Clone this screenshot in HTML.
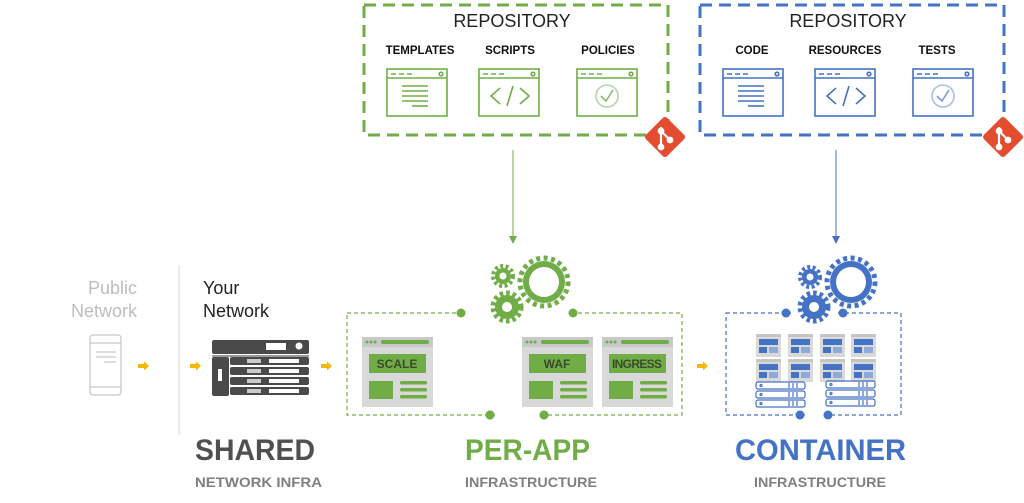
<!DOCTYPE html>
<html><head><meta charset="utf-8"><style>
html,body{margin:0;padding:0;background:#fff;}
svg{display:block;}
text{font-family:"Liberation Sans",sans-serif;}
</style></head><body>
<svg width="1024" height="503" viewBox="0 0 1024 503" xmlns="http://www.w3.org/2000/svg">
<defs>
<marker id="ag" markerWidth="8" markerHeight="8" refX="4" refY="4" orient="auto"><path d="M0,0 L8,4 L0,8 z" fill="#70ad47"/></marker>
<marker id="ab" markerWidth="8" markerHeight="8" refX="4" refY="4" orient="auto"><path d="M0,0 L8,4 L0,8 z" fill="#4472c4"/></marker>
<g id="arrow"><rect x="0" y="-2" width="7" height="4" fill="#f5b800"/><path d="M6,-4.5 L11,0 L6,4.5z" fill="#f5b800"/></g>
</defs>

<!-- Green repository -->
<rect x="364" y="5" width="304" height="130" fill="none" stroke="#70ad47" stroke-width="3" stroke-dasharray="12,7"/>
<text x="512" y="27" font-size="18" text-anchor="middle" fill="#222">REPOSITORY</text>
<g font-size="11.5" font-weight="bold" fill="#111" text-anchor="middle">
<text x="420" y="54">TEMPLATES</text><text x="510" y="54">SCRIPTS</text><text x="608" y="54">POLICIES</text>
</g>
<g fill="none" stroke="#70ad47" stroke-width="1.6">
<rect x="387" y="69" width="60" height="47"/><line x1="387" y1="78" x2="447" y2="78"/>
<line x1="391" y1="74" x2="413" y2="74" stroke-dasharray="5,3"/><circle cx="441" cy="74" r="1.8"/>
<line x1="402" y1="86" x2="428" y2="86"/><line x1="402" y1="91" x2="428" y2="91"/><line x1="402" y1="96" x2="428" y2="96"/><line x1="402" y1="101" x2="428" y2="101"/><line x1="412" y1="106" x2="428" y2="106"/>
<rect x="479" y="69" width="60" height="47"/><line x1="479" y1="78" x2="539" y2="78"/>
<line x1="483" y1="74" x2="505" y2="74" stroke-dasharray="5,3"/><circle cx="533" cy="74" r="1.8"/>
<path d="M500,88 L491,96 L500,104 M520,88 L529,96 L520,104 M513,86 L507,106"/>
<rect x="577" y="69" width="60" height="47"/><line x1="577" y1="78" x2="637" y2="78"/>
<line x1="581" y1="74" x2="603" y2="74" stroke-dasharray="5,3"/><circle cx="631" cy="74" r="1.8"/>
<circle cx="607" cy="96" r="11" stroke="#b8d4a8"/><path d="M601,96 L606,101 L613,90" stroke="#8ab872"/>
</g>
<!-- Blue repository -->
<rect x="700" y="5" width="304" height="130" fill="none" stroke="#4472c4" stroke-width="3" stroke-dasharray="12,7"/>
<text x="848" y="27" font-size="18" text-anchor="middle" fill="#222">REPOSITORY</text>
<g font-size="11.5" font-weight="bold" fill="#111" text-anchor="middle">
<text x="752" y="54">CODE</text><text x="845" y="54">RESOURCES</text><text x="937" y="54">TESTS</text>
</g>
<g fill="none" stroke="#4472c4" stroke-width="1.6">
<rect x="723" y="69" width="60" height="47"/><line x1="723" y1="78" x2="783" y2="78"/>
<line x1="727" y1="74" x2="749" y2="74" stroke-dasharray="5,3"/><circle cx="777" cy="74" r="1.8"/>
<line x1="738" y1="86" x2="764" y2="86"/><line x1="738" y1="91" x2="764" y2="91"/><line x1="738" y1="96" x2="764" y2="96"/><line x1="738" y1="101" x2="764" y2="101"/><line x1="748" y1="106" x2="764" y2="106"/>
<rect x="815" y="69" width="60" height="47"/><line x1="815" y1="78" x2="875" y2="78"/>
<line x1="819" y1="74" x2="841" y2="74" stroke-dasharray="5,3"/><circle cx="869" cy="74" r="1.8"/>
<path d="M836,88 L827,96 L836,104 M856,88 L865,96 L856,104 M849,86 L843,106"/>
<rect x="913" y="69" width="60" height="47"/><line x1="913" y1="78" x2="973" y2="78"/>
<line x1="917" y1="74" x2="939" y2="74" stroke-dasharray="5,3"/><circle cx="967" cy="74" r="1.8"/>
<circle cx="943" cy="96" r="11" stroke="#a8bde4"/><path d="M937,96 L942,101 L949,90" stroke="#7b9bd6"/>
</g>
<!-- git icons -->
<g transform="translate(665,137) rotate(45)"><rect x="-15" y="-15" width="30" height="30" rx="3" fill="#e44c30"/></g>
<g stroke="#fff" stroke-width="2.2" fill="#fff"><line x1="661" y1="127" x2="661" y2="147"/><line x1="661" y1="131" x2="670" y2="140"/><circle cx="661" cy="131" r="2.3"/><circle cx="661" cy="147" r="2.3"/><circle cx="670" cy="140" r="2.3"/></g>
<g transform="translate(1003,137) rotate(45)"><rect x="-15" y="-15" width="30" height="30" rx="3" fill="#e44c30"/></g>
<g stroke="#fff" stroke-width="2.2" fill="#fff"><line x1="999" y1="127" x2="999" y2="147"/><line x1="999" y1="131" x2="1008" y2="140"/><circle cx="999" cy="131" r="2.3"/><circle cx="999" cy="147" r="2.3"/><circle cx="1008" cy="140" r="2.3"/></g>

<!-- vertical arrows -->
<line x1="513" y1="150" x2="513" y2="240" stroke="#70ad47" stroke-width="1" marker-end="url(#ag)"/>
<line x1="836" y1="150" x2="836" y2="240" stroke="#4472c4" stroke-width="1" marker-end="url(#ab)"/>

<!-- Public network -->
<text x="137" y="294" font-size="18" fill="#bdbdbd" text-anchor="end">Public</text>
<text x="137" y="317" font-size="18" fill="#bdbdbd" text-anchor="end">Network</text>
<g fill="none" stroke="#c8c8c8" stroke-width="1.3">
<rect x="90" y="335" width="31" height="60" rx="3"/><line x1="90" y1="343" x2="121" y2="343"/><line x1="90" y1="387" x2="121" y2="387"/>
<line x1="96" y1="352" x2="116" y2="352"/><line x1="96" y1="357" x2="116" y2="357"/><line x1="104" y1="362" x2="116" y2="362"/>
</g>
<use href="#arrow" x="138" y="366"/>
<line x1="179" y1="265" x2="179" y2="435" stroke="#dcdcdc" stroke-width="1.2"/>
<!-- Your network -->
<text x="203" y="294" font-size="18" fill="#222">Your</text>
<text x="203" y="317" font-size="18" fill="#222">Network</text>
<use href="#arrow" x="190" y="366"/>
<g fill="#4a4a4a">
<rect x="212" y="340" width="97" height="14" rx="2"/>
<rect x="212" y="355" width="97" height="2" fill="#9a9a9a"/>
<rect x="212" y="357" width="17" height="39" rx="2"/>
<rect x="230" y="357" width="79" height="8" rx="2"/><rect x="230" y="367" width="79" height="8" rx="2"/><rect x="230" y="377" width="79" height="8" rx="2"/><rect x="230" y="387" width="79" height="8" rx="2"/>
</g>
<g fill="#fff"><rect x="266" y="343" width="20" height="7"/><circle cx="299" cy="346" r="3.5"/><rect x="218" y="369" width="4" height="12"/>
<rect x="269" y="359" width="30" height="4"/><rect x="269" y="369" width="30" height="4"/><rect x="269" y="379" width="30" height="4"/><rect x="269" y="389" width="30" height="4"/>
<rect x="247" y="359" width="14" height="4" opacity=".7"/><rect x="247" y="369" width="14" height="4" opacity=".7"/><rect x="247" y="379" width="14" height="4" opacity=".7"/><rect x="247" y="389" width="14" height="4" opacity=".7"/></g>
<use href="#arrow" x="321" y="366"/>

<!-- Per-app -->
<rect x="347" y="313" width="335" height="102" fill="none" stroke="#70ad47" stroke-width="1.2" stroke-dasharray="4,3"/>
<rect x="466" y="308" width="102" height="10" fill="#fff"/>
<g fill="#70ad47">
<circle cx="544" cy="282" r="21"/><circle cx="544" cy="282" r="24" fill="none" stroke="#70ad47" stroke-width="5" stroke-dasharray="4,3.5"/>
<circle cx="503" cy="276" r="8"/><circle cx="503" cy="276" r="10" fill="none" stroke="#70ad47" stroke-width="4" stroke-dasharray="3,2.5"/>
<circle cx="507" cy="307" r="12"/><circle cx="507" cy="307" r="14" fill="none" stroke="#70ad47" stroke-width="5" stroke-dasharray="3.5,3"/>
</g>
<circle cx="544" cy="282" r="15" fill="#fff"/><circle cx="503" cy="276" r="3.5" fill="#fff"/><circle cx="507" cy="307" r="5" fill="#fff"/>
<g fill="#70ad47"><circle cx="461" cy="313" r="4.5"/><circle cx="573" cy="313" r="4.5"/><circle cx="490" cy="415" r="4.5"/><circle cx="544" cy="415" r="4.5"/></g>
<rect x="495" y="410" width="44" height="10" fill="#fff"/>
<g fill="#70ad47"><circle cx="490" cy="415" r="4.5"/><circle cx="544" cy="415" r="4.5"/></g>
<g id="pan">
<rect x="362" y="337" width="71" height="70" fill="#d9d9d9"/>
<rect x="362" y="337" width="71" height="10" fill="#c9c9c9"/>
<circle cx="367" cy="342" r="1.5" fill="#70ad47"/><circle cx="371" cy="342" r="1.5" fill="#70ad47"/><circle cx="375" cy="342" r="1.5" fill="#70ad47"/>
<rect x="381" y="340" width="48" height="4" rx="2" fill="#70ad47"/>
<rect x="369" y="354" width="57" height="19" fill="#70ad47"/>
<rect x="369" y="381" width="24" height="18" fill="#70ad47"/>
<rect x="400" y="381" width="27" height="3.5" rx="1.5" fill="#70ad47"/><rect x="400" y="388" width="27" height="3.5" rx="1.5" fill="#70ad47"/><rect x="400" y="395" width="27" height="3.5" rx="1.5" fill="#70ad47"/>
</g>
<use href="#pan" x="160"/><use href="#pan" x="240"/>
<g font-size="12" font-weight="bold" fill="#3a4a2a" text-anchor="middle">
<text x="397" y="368">SCALE</text><text x="557" y="368">WAF</text><text x="637" y="368" textLength="50">INGRESS</text>
</g>
<use href="#arrow" x="697" y="366"/>

<!-- Container -->
<rect x="726" y="313" width="175" height="102" fill="none" stroke="#4472c4" stroke-width="1.2" stroke-dasharray="4,3"/>
<rect x="791" y="308" width="47" height="10" fill="#fff"/>
<rect x="805" y="410" width="18" height="10" fill="#fff"/>
<g fill="#4472c4">
<circle cx="851" cy="282" r="21"/><circle cx="851" cy="282" r="24" fill="none" stroke="#4472c4" stroke-width="5" stroke-dasharray="4,3.5"/>
<circle cx="810" cy="277" r="8"/><circle cx="810" cy="277" r="10" fill="none" stroke="#4472c4" stroke-width="4" stroke-dasharray="3,2.5"/>
<circle cx="814" cy="307" r="12"/><circle cx="814" cy="307" r="14" fill="none" stroke="#4472c4" stroke-width="5" stroke-dasharray="3.5,3"/>
</g>
<circle cx="851" cy="282" r="15" fill="#fff"/><circle cx="810" cy="277" r="3.5" fill="#fff"/><circle cx="814" cy="307" r="5" fill="#fff"/>
<g fill="#4472c4"><circle cx="786" cy="313" r="4.5"/><circle cx="843" cy="313" r="4.5"/><circle cx="800" cy="415" r="4.5"/><circle cx="828" cy="415" r="4.5"/></g>
<g id="cp">
<rect x="756" y="334" width="25" height="23" fill="#d9d9d9"/>
<rect x="756" y="334" width="25" height="3" fill="#c5c5c5"/>
<rect x="759" y="339" width="19" height="6" fill="#4472c4"/>
<rect x="759" y="347" width="8" height="6" fill="#4472c4"/>
<rect x="769" y="347" width="9" height="6" fill="#8fa9da"/>
</g>
<use href="#cp" x="32"/><use href="#cp" x="64"/><use href="#cp" x="95"/>
<use href="#cp" y="25"/><use href="#cp" x="32" y="25"/><use href="#cp" x="64" y="25"/><use href="#cp" x="95" y="25"/>
<g id="rk" fill="none" stroke="#4472c4" stroke-width="1.2">
<rect x="756" y="382" width="49" height="7" rx="2"/><rect x="756" y="391" width="49" height="7" rx="2"/><rect x="756" y="400" width="49" height="7" rx="2"/>
<path d="M789,383v5M793,383v5M797,383v5M789,392v5M793,392v5M797,392v5M789,401v5M793,401v5M797,401v5"/>
<circle cx="761" cy="385.5" r="1"/><circle cx="761" cy="394.5" r="1"/><circle cx="761" cy="403.5" r="1"/>
</g>
<use href="#rk" x="70" y="-1"/>

<!-- Bottom titles -->
<g font-weight="bold">
<text x="195" y="460" font-size="30" fill="#505050" textLength="120" lengthAdjust="spacingAndGlyphs">SHARED</text>
<text x="195" y="487" font-size="14" fill="#7f7f7f" textLength="127" lengthAdjust="spacingAndGlyphs">NETWORK INFRA</text>
<text x="465" y="460" font-size="30" fill="#70ad47" textLength="125" lengthAdjust="spacingAndGlyphs">PER-APP</text>
<text x="465" y="487" font-size="14" fill="#7f7f7f" textLength="132" lengthAdjust="spacingAndGlyphs">INFRASTRUCTURE</text>
<text x="735" y="460" font-size="30" fill="#4472c4" textLength="171" lengthAdjust="spacingAndGlyphs">CONTAINER</text>
<text x="754" y="487" font-size="14" fill="#7f7f7f" textLength="132" lengthAdjust="spacingAndGlyphs">INFRASTRUCTURE</text>
</g>
</svg>
</body></html>
